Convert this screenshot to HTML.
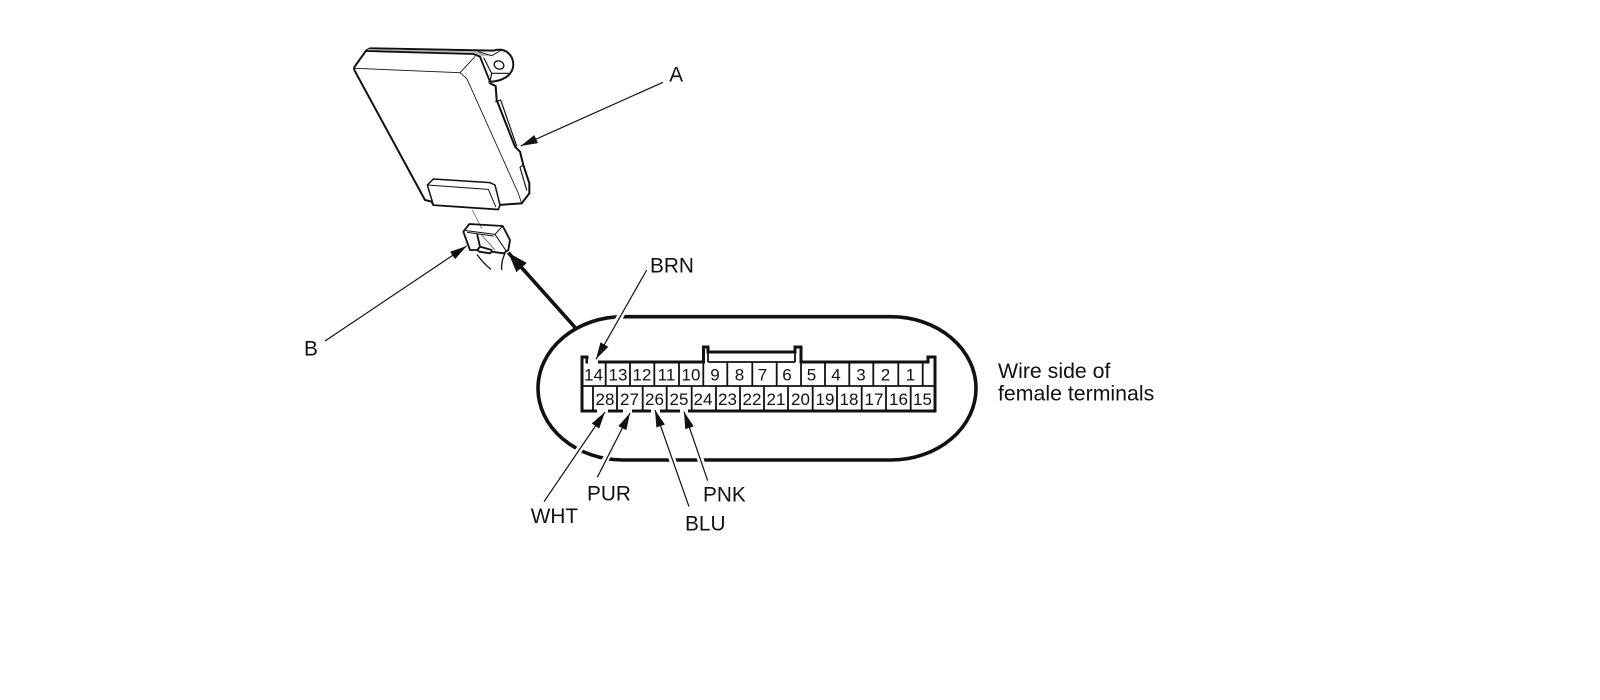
<!DOCTYPE html>
<html><head><meta charset="utf-8"><style>
html,body{margin:0;padding:0;background:#fff;width:1600px;height:700px;overflow:hidden}
svg{display:block}
text{font-family:"Liberation Sans",sans-serif;fill:#111}
.l{font-size:20.8px}
.w{font-size:21.3px}
.n{font-size:17px;text-anchor:middle}
</style></head><body>
<svg width="1600" height="700" viewBox="0 0 1600 700" xmlns="http://www.w3.org/2000/svg">
<defs>
<marker id="h" markerUnits="userSpaceOnUse" markerWidth="18" markerHeight="10" refX="17" refY="5" orient="auto"><path d="M0,0.5L17,5L0,9.5z" fill="#111"/></marker>
<marker id="H" markerUnits="userSpaceOnUse" markerWidth="22" markerHeight="16" refX="20" refY="7.5" orient="auto"><path d="M0,0.5L20,7.5L0,14.5z" fill="#111"/></marker>
</defs>
<rect width="1600" height="700" fill="#fff"/>

<!-- module A -->
<g transform="translate(330,30) scale(.33333)" fill="none" stroke="#111" stroke-linejoin="round" stroke-linecap="round">
<path stroke-width="6" fill="#fff" d="M74,110Q70,116 75,124L285,510L305,515L310,525L505,538L505,525L575,520L598,490L598,460L580,405L570,365L555,350L500,210L497,168L480,160L478,155C510,155 548,140 550,105C550,75 525,50 490,62L120,55L108,62Z"/>
<path fill="#bbb" stroke="none" d="M115,57L445,65L485,76L450,80L430,72L110,62Z"/>
<path stroke-width="5.5" d="M108,63L430,72L450,80L480,155"/>
<path stroke-width="3" d="M445,65L485,77L515,60"/>
<path stroke-width="2.5" d="M75,115L390,128L435,80M390,128L410,145L565,490L575,520"/>
<path stroke-width="3.5" d="M462,85L485,130L535,130M485,130L480,155"/>
<ellipse cx="507" cy="105" rx="15" ry="12" stroke-width="4" transform="rotate(20 507 105)"/>
<path stroke-width="3.5" d="M497,215L512,210L560,348M580,405L570,412L590,480"/>
<path stroke-width="4.5" fill="#fff" d="M292,465L310,447L480,458L495,465L510,525L505,538L310,525Z"/>
<path stroke-width="3" d="M292,465L475,478L497,530"/>
</g>

<!-- plug B -->
<g transform="translate(440,200) scale(.33333)" fill="none" stroke="#111" stroke-linejoin="round" stroke-linecap="round">
<path stroke-width="2" stroke="#555" d="M97,30L125,85"/>
<path stroke-width="5.5" d="M70,95L88,72L188,78L210,120L205,150L190,160L155,155L150,160L118,155L112,150L90,150Z"/>
<path stroke-width="3" d="M78,92L165,103L188,78M165,103L200,155M82,97L160,108"/>
<path stroke-width="5.5" d="M112,105L120,140L112,150M120,140L155,150"/>
<path stroke-width="2" stroke="#444" d="M125,105L165,150"/>
<path stroke-width="4" d="M112,165Q130,190 152,207M195,160Q183,185 185,208"/>
</g>

<!-- pill -->
<path d="M623,316.7H891A85,71.6 0 0 1 891,460H623A85,71.6 0 0 1 623,316.7Z" fill="none" stroke="#111" stroke-width="3.6"/>

<!-- connector -->
<g fill="none" stroke="#111">
<path stroke-width="3" d="M582,411V357H587V362H703.5V347H708V352H795V347H801V362H928V357H935V411Z"/>
<path stroke-width="1.8" d="M708,347V362M795,347V362M708,362H795"/>
<path stroke-width="1.8" d="M582,386H935M605.7,362V386M630,362V386M654.3,362V386M679,362V386M703.3,362V386M727.3,362V386M752.3,362V386M776.7,362V386M801,362V386M825,362V386M849.3,362V386M873.3,362V386M898.3,362V386M922.7,362V386"/>
<path stroke-width="1.8" d="M593,386V411M617,386V411M642.7,386V411M666.7,386V411M691.7,386V411M716,386V411M740,386V411M764,386V411M788,386V411M812.7,386V411M837,386V411M861.7,386V411M886,386V411M910.7,386V411"/>
</g>
<g fill="#fff">
<rect x="597" y="408" width="11" height="6"/>
<rect x="623" y="408" width="9" height="6"/>
<rect x="651" y="408" width="9" height="6"/>
<rect x="680" y="408" width="8" height="6"/>
<rect x="588" y="359" width="10" height="5"/>
</g>
<g>
<text class="n" x="593.5" y="380.7">14</text><text class="n" x="618" y="380.7">13</text><text class="n" x="642" y="380.7">12</text><text class="n" x="666.5" y="380.7">11</text><text class="n" x="691" y="380.7">10</text><text class="n" x="715" y="380.7">9</text><text class="n" x="739.5" y="380.7">8</text><text class="n" x="762.5" y="380.7">7</text><text class="n" x="787" y="380.7">6</text><text class="n" x="811.5" y="380.7">5</text><text class="n" x="836" y="380.7">4</text><text class="n" x="861" y="380.7">3</text><text class="n" x="885.5" y="380.7">2</text><text class="n" x="910.5" y="380.7">1</text>
<text class="n" x="605" y="405">28</text><text class="n" x="629.5" y="405">27</text><text class="n" x="654.5" y="405">26</text><text class="n" x="679" y="405">25</text><text class="n" x="703" y="405">24</text><text class="n" x="727.5" y="405">23</text><text class="n" x="752" y="405">22</text><text class="n" x="776" y="405">21</text><text class="n" x="800.5" y="405">20</text><text class="n" x="825" y="405">19</text><text class="n" x="849" y="405">18</text><text class="n" x="874" y="405">17</text><text class="n" x="898.5" y="405">16</text><text class="n" x="922.5" y="405">15</text>
</g>

<!-- leader halos -->
<g stroke="#fff" stroke-width="6.5" fill="none">
<path d="M640,282L602,348"/>
<path d="M550,492L594,428"/>
<path d="M600,470L622,428"/>
<path d="M686,498L660,425"/>
<path d="M705,473L690,428"/>
</g>
<!-- leaders -->
<g stroke="#111" stroke-width="1.2" fill="none">
<line x1="663" y1="82.3" x2="520.7" y2="146" marker-end="url(#h)"/>
<line x1="325" y1="341" x2="466.7" y2="246" marker-end="url(#h)"/>
<line x1="646.7" y1="270" x2="596" y2="359.3" marker-end="url(#h)"/>
<line x1="544" y1="501.7" x2="605" y2="412" marker-end="url(#h)"/>
<line x1="597.3" y1="477.3" x2="630" y2="413" marker-end="url(#h)"/>
<line x1="689" y1="506.7" x2="655" y2="410" marker-end="url(#h)"/>
<line x1="707.7" y1="480.7" x2="684" y2="411.7" marker-end="url(#h)"/>
</g>
<line x1="575" y1="327.3" x2="508.3" y2="252.7" stroke="#111" stroke-width="3.6" marker-end="url(#H)"/>

<!-- labels -->
<text class="l" x="669.3" y="81.7">A</text>
<text class="l" x="304" y="355.7">B</text>
<text class="l" x="650" y="272.7">BRN</text>
<text class="l" x="530.7" y="523">WHT</text>
<text class="l" x="587" y="500.7">PUR</text>
<text class="l" x="703" y="501.7">PNK</text>
<text class="l" x="685" y="530.7">BLU</text>
<text class="w" x="998" y="378">Wire side of</text>
<text class="w" x="998" y="400.7">female terminals</text>
</svg>
</body></html>
